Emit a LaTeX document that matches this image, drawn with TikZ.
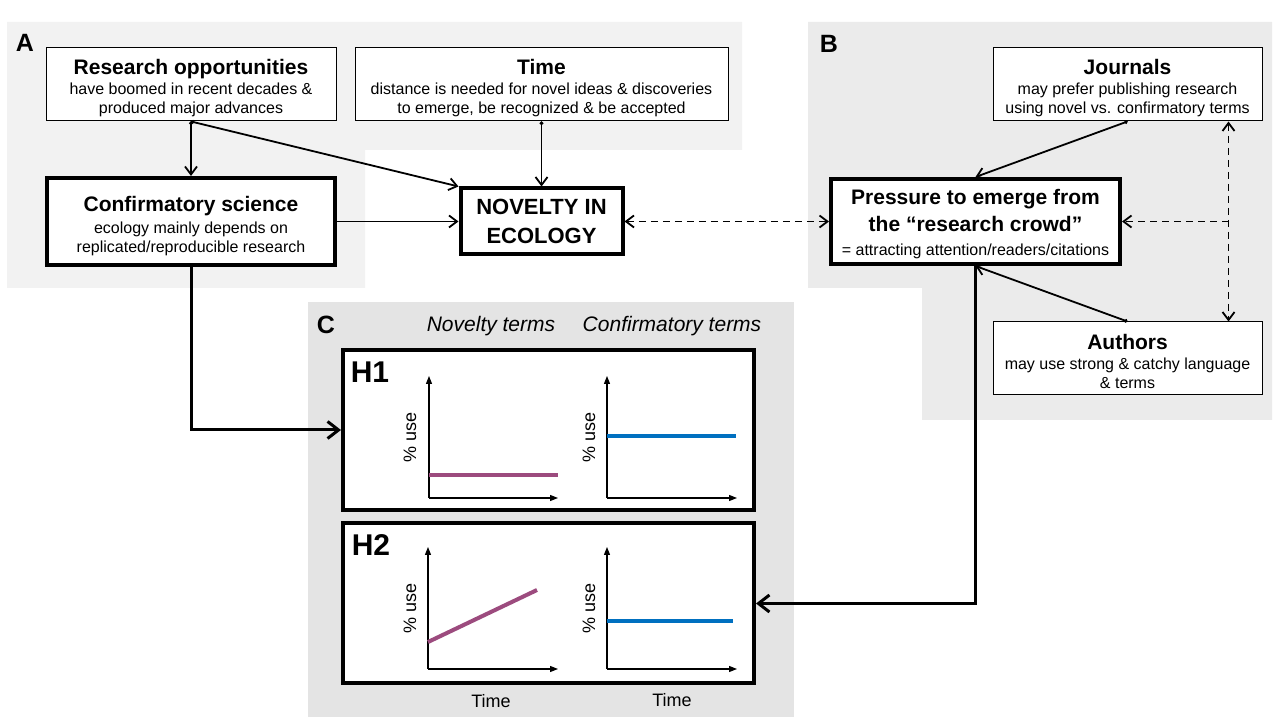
\documentclass[tikz,border=0pt]{standalone}
\usepackage{fontspec}
\setmainfont{Liberation Sans}
\usetikzlibrary{arrows.meta,
                  calc,
                  positioning}
\definecolor{panelA}{HTML}{F2F2F2}
\definecolor{panelB}{HTML}{EBEBEB}
\definecolor{panelC}{HTML}{E4E4E4}
\definecolor{novcolor}{HTML}{9C4B7E}
\definecolor{confcolor}{HTML}{0070C0}

\begin{document}
\begin{tikzpicture}[x=1pt, y=1pt, every node/.style={font=\fontsize{16}{19}\selectfont}]
    \tikzset{
    thinbox/.style={draw, shape=rectangle, line width=1pt, align=center, inner sep=0pt, fill=white},
    thickbox/.style={draw, shape=rectangle, line width=4pt, align=center, inner sep=0pt, fill=white},
    hypbox/.style={draw, rectangle, line width=4pt, fill=white, minimum width=411pt, minimum height=160pt},
    panellabel/.style={font=\fontsize{25}{30}\selectfont\bfseries},
    hyplabel/.style={font=\fontsize{30}{36}\selectfont\bfseries},
    colhead/.style={font=\fontsize{21}{25}\selectfont\itshape},
    axislabel/.style={font=\fontsize{18}{22}\selectfont},
    axis/.style={draw, line width=1.2pt, -{Triangle[length=8pt,width=6pt]}},
    novline/.style={draw, line width=4pt, novcolor},
    confline/.style={draw, line width=4pt, confcolor},
    line/.style={draw, line width=1.8pt, {Circle[length=3.5pt]}-{Straight Barb[length=8pt,width=12pt]}},
    plainline/.style={draw, line width=1.8pt, -{Straight Barb[length=8pt,width=12pt]}},
    dashline/.style={draw, line width=1.8pt, dash pattern=on 7pt off 5pt},
    thickline/.style={draw, line width=3pt, -{Straight Barb[length=11pt,width=17pt]}}
}
\useasboundingbox (0,0) rectangle (1280,720);
% grey panels
\fill[panelA] (7,698) -- (742,698) -- (742,570) -- (365,570) -- (365,432) -- (7,432) -- cycle;
\fill[panelB] (808,698) -- (1272,698) -- (1272,300) -- (922,300) -- (922,432) -- (808,432) -- cycle;
\fill[panelC] (308,418) rectangle (794,3);

\node [panellabel] (labA) at (25,677) {A};
\node [panellabel] (labB) at (829,676) {B};
\node [panellabel] (labC) at (326,395) {C};

\node [thinbox, minimum width=290pt, minimum height=73pt] (resopp) at (191,635.5) {{\fontsize{21}{25}\selectfont\bfseries\rule{0pt}{22pt}Research opportunities}\\[1pt]have boomed in recent decades \&\\produced major advances};
\node [thinbox, right of=resopp, node distance=350.5pt, minimum width=373pt, minimum height=73pt] (time) {{\fontsize{21}{25}\selectfont\bfseries\rule{0pt}{22pt}Time}\\[1pt]distance is needed for novel ideas \& discoveries\\to emerge, be recognized \& be accepted};
\node [thickbox, below of=resopp, node distance=137pt, minimum width=288pt, minimum height=87pt] (confsci) {{\fontsize{21}{25}\selectfont\bfseries\rule{0pt}{24pt}Confirmatory science}\\[3pt]ecology mainly depends on\\replicated/reproducible research};
\node [thickbox, below of=time, node distance=137pt, minimum width=162pt, minimum height=66pt, font=\fontsize{22}{29}\selectfont\bfseries] (novelty) {NOVELTY IN\\ECOLOGY};
\node [thickbox, right of=novelty, node distance=434pt, minimum width=289pt, minimum height=85pt] (pressure) {{\fontsize{21}{25}\selectfont\bfseries\rule{0pt}{20pt}Pressure to emerge from}\\[6pt]{\fontsize{21}{25}\selectfont\bfseries the “research crowd”}\\[5pt]= attracting attention/readers/citations};
\node [thinbox, right of=time, node distance=586pt, minimum width=269pt, minimum height=73pt] (journals) {{\fontsize{21}{25}\selectfont\bfseries\rule{0pt}{22pt}Journals}\\[1pt]may prefer publishing research\\using novel vs. confirmatory terms};
\node [thinbox, below of=journals, node distance=274pt, minimum width=269pt, minimum height=73pt] (authors) {{\fontsize{21}{25}\selectfont\bfseries\rule{0pt}{22pt}Authors}\\[1pt]may use strong \& catchy language\\\& terms};

% hypotheses
\node [colhead] (novhead) at (491,394) {Novelty terms};
\node [colhead] (confhead) at (672,394) {Confirmatory terms};
\node [hypbox] (hypone) at (548.5,290) {};
\node [hypbox, below of=hypone, node distance=173.5pt] (hyptwo) {};
\node [hyplabel] (honelab) at (370,348) {H1};
\node [hyplabel] (htwolab) at (371,175) {H2};

% H1 plots
\draw [axis] (429,222) -- (429,344);
\draw [axis] (429,222) -- (558,222);
\draw [novline] (429,245) -- (558,245);
\node [axislabel, rotate=90] (useonel) at (410,283) {\% use};
\draw [axis] (607,222) -- (607,344);
\draw [axis] (607,222) -- (737,222);
\draw [confline] (607,284) -- (736,284);
\node [axislabel, rotate=90] (useoner) at (589,283) {\% use};

% H2 plots
\draw [axis] (428,51) -- (428,173);
\draw [axis] (428,51) -- (558,51);
\draw [novline] (428,78) -- (537,130);
\node [axislabel, rotate=90] (usetwol) at (410,112) {\% use};
\draw [axis] (607,51) -- (607,173);
\draw [axis] (607,51) -- (737,51);
\draw [confline] (607,99) -- (733,99);
\node [axislabel, rotate=90] (usetwor) at (589,112) {\% use};
\node [axislabel] (timel) at (491,19) {Time};
\node [axislabel] (timer) at (672,20) {Time};

\coordinate (jcorner) at ([xshift=-34pt]journals.south east);
\coordinate (acorner) at ([xshift=-34pt]authors.north east);
\coordinate (dashfork) at (jcorner |- pressure.east);

\path [line] (resopp.south) -- (confsci.north);
\path [line] (resopp.south) -- (novelty.north west);
\path [line] (time.south) -- (novelty.north);
\path [plainline] (confsci.east) -- (novelty.west);
\path [dashline, {Straight Barb[length=8pt,width=12pt]}-{Straight Barb[length=8pt,width=12pt]}] (novelty.east) -- (pressure.west);
\path [line] (journals.south) -- (pressure.north);
\path [line] (authors.north) -- (pressure.south);
\path [dashline, {Straight Barb[length=8pt,width=12pt]}-{Straight Barb[length=8pt,width=12pt]}] (jcorner) -- (acorner);
\path [dashline, -{Straight Barb[length=8pt,width=12pt]}] (dashfork) -- (pressure.east);
\path [thickline] (confsci.south) |- (hypone.west);
\path [thickline] (pressure.south) |- (hyptwo.east);

\end{tikzpicture}
\end{document}
